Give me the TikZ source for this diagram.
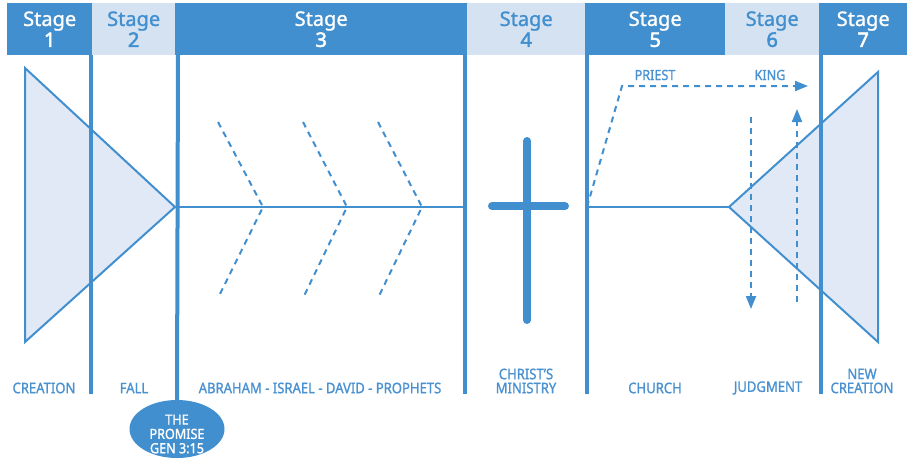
\documentclass[tikz,border=0pt]{standalone}
\usepackage{fontspec}
\setmainfont{Noto Sans}
\newfontfamily\labfont[FakeStretch=0.9,FakeBold=1.2]{Noto Sans}
\newfontfamily\stfont[FakeBold=1.2]{Noto Sans}
\newfontfamily\numfont[FakeBold=2.5]{Noto Sans}
\usetikzlibrary{arrows.meta,shapes.geometric}
\definecolor{dk}{HTML}{418FCE}
\definecolor{lt}{HTML}{D5E2F2}
\definecolor{tri}{HTML}{E1E9F6}
\definecolor{lab}{HTML}{4A91D1}
\tikzset{
  stagebox/.style={anchor=north west, minimum height=52, inner sep=0, align=center,
    font=\stfont\fontsize{20}{21}\selectfont},
  stagedk/.style={stagebox, fill=dk, text=white},
  stagelt/.style={stagebox, fill=lt, text=dk},
  divider/.style={draw=dk, line width=4},
  thin/.style={draw=dk, line width=2},
  dsh/.style={draw=dk, line width=2, dash pattern=on 6 off 5},
  arr/.style={-{Triangle[length=13,width=10]}},
  lbl/.style={text=lab, font=\labfont\fontsize{14.5}{14}\selectfont, align=center, inner sep=0},
  small/.style={text=lab, font=\labfont\fontsize{14}{14}\selectfont, inner sep=0},
}
\newcommand{\stnum}[1]{{\numfont #1}}
\begin{document}
\begin{tikzpicture}[x=1pt,y=-1pt]
\useasboundingbox (0,0) rectangle (907,461);
% header
\node[stagedk, minimum width=85] (s1) at (7,3) {Stage\\\stnum{1}};
\node[stagelt, minimum width=83] (s2) at (92,3) {Stage\\\stnum{2}};
\node[stagedk, minimum width=292] (s3) at (175,3) {Stage\\\stnum{3}};
\node[stagelt, minimum width=118] (s4) at (467,3) {Stage\\\stnum{4}};
\node[stagedk, minimum width=140] (s5) at (585,3) {Stage\\\stnum{5}};
\node[stagelt, minimum width=94] (s6) at (725,3) {Stage\\\stnum{6}};
\node[stagedk, minimum width=88] (s7) at (819,3) {Stage\\\stnum{7}};
% promise ellipse
\node[ellipse, fill=dk, minimum width=95, minimum height=58, inner sep=0] (promise) at (177,429) {};
\node[text=white, align=center, inner sep=0, font=\labfont\fontsize{14}{14.3}\selectfont] (promtext) at (177,434)
  {THE\\PROMISE\\GEN 3:15};
% dividers
\coordinate (d1t) at (91,55);  \coordinate (d1b) at (91,394);
\coordinate (d2t) at (178,55);
\coordinate (d3t) at (465,55); \coordinate (d3b) at (465,394);
\coordinate (d4t) at (587,55); \coordinate (d4b) at (587,394);
\coordinate (d5t) at (821,55); \coordinate (d5b) at (821,394);
% triangles
\coordinate (a1) at (175,207);
\coordinate (a2) at (729,207);
\filldraw[thin, fill=tri] (25,68) -- (25,342) -- (a1) -- cycle;
\filldraw[thin, fill=tri] (878,72) -- (878,342) -- (a2) -- cycle;
\draw[divider] (d1t) -- (d1b);
\draw[divider] (d2t) -- (promise.north);
\draw[divider] (d3t) -- (d3b);
\draw[divider] (d4t) -- (d4b);
\draw[divider] (d5t) -- (d5b);
% main lines
\coordinate (m3) at (465,207);
\coordinate (m4) at (587,207);
\draw[thin] (a1) -- (m3);
\draw[thin] (m4) -- (a2);
% chevrons
\draw[dsh] (218,122) -- (263,207) -- (218,298);
\draw[dsh] (303,122) -- (347,207) -- (303,298);
\draw[dsh] (378,122) -- (422,207) -- (378,298);
% cross
\draw[dk, line width=8, line cap=round] (527,141) -- (527,320);
\draw[dk, line width=8, line cap=round] (492,206) -- (565,206);
% priest/king path
\coordinate (pk) at (622,86);
\coordinate (pe) at (808,86);
\draw[dsh, arr] (m4) -- (pk) -- (pe);
\node[small] (priest) at (655,75) {PRIEST};
\node[small] (king) at (770,75) {KING};
% judgment arrows
\coordinate (j1) at (751,117); \coordinate (j2) at (751,309);
\coordinate (k1) at (797,302); \coordinate (k2) at (797,109);
\draw[dsh, arr] (j1) -- (j2);
\draw[dsh, arr] (k1) -- (k2);
% labels
\node[lbl] (creation) at (44,388) {CREATION};
\node[lbl] (fall) at (134,388) {FALL};
\node[lbl] (abraham) at (320,388) {ABRAHAM - ISRAEL - DAVID - PROPHETS};
\node[lbl] (christ) at (526,381) {CHRIST’S\\MINISTRY};
\node[lbl] (church) at (655,388) {CHURCH};
\node[lbl] (judg) at (768,388) {JUDGMENT};
\node[lbl] (newc) at (862,381) {NEW\\CREATION};
\end{tikzpicture}
\end{document}
